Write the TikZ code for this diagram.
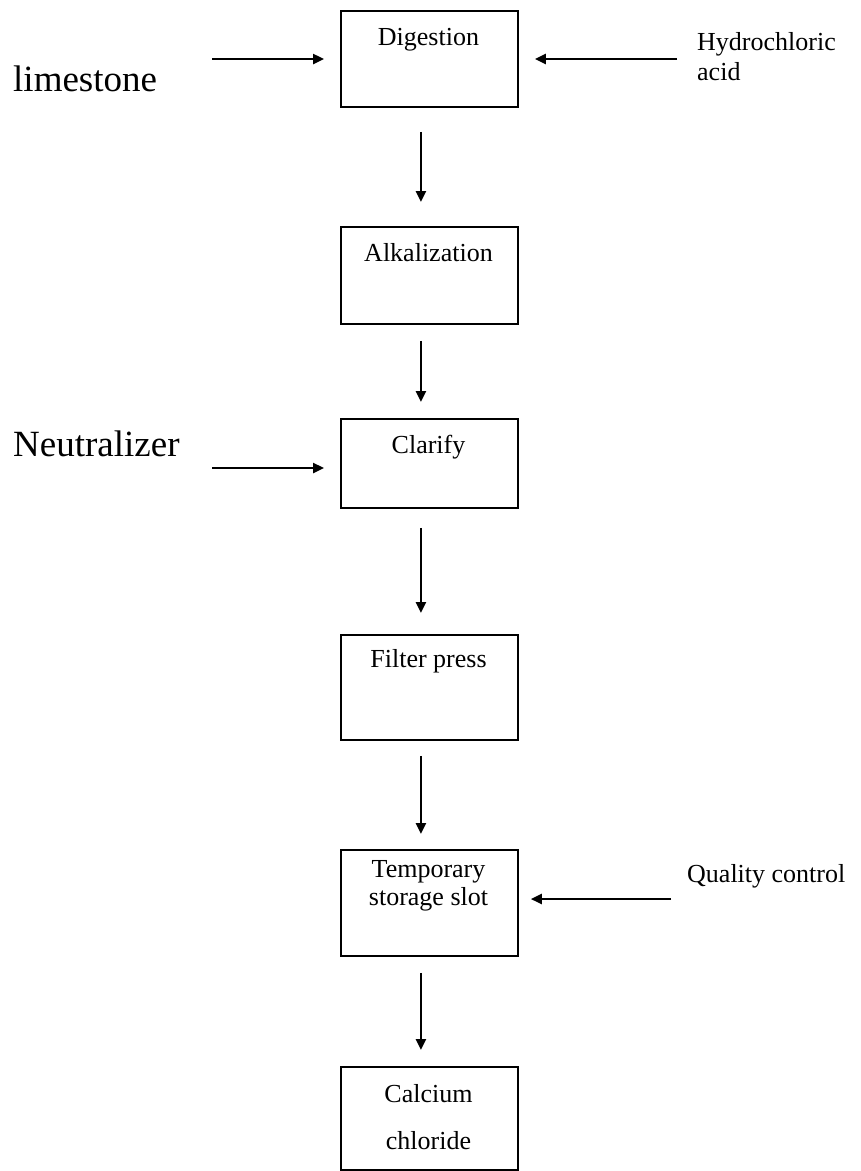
\documentclass[tikz,border=0pt]{standalone}
\usepackage{fontspec}
\setmainfont{Liberation Serif}
\usetikzlibrary{arrows.meta}
\begin{document}
\begin{tikzpicture}[x=1pt,y=-1pt,
  stage/.style={draw, line width=1.8pt, minimum width=177pt, anchor=north west, inner sep=0pt},
  flow/.style={line width=2.4pt, -{Triangle[length=11pt,width=10pt]}},
  small/.style={font=\fontsize{26}{30}\selectfont, inner sep=0pt},
  big/.style={font=\fontsize{37}{44}\selectfont, inner sep=0pt}]
\useasboundingbox (0,0) rectangle (861,1171);

% process stages
\node[stage, minimum height=96pt]  (dig) at (340,10)   {};
\node[stage, minimum height=97pt]  (alk) at (340,226)  {};
\node[stage, minimum height=89pt]  (cla) at (340,418)  {};
\node[stage, minimum height=105pt] (fil) at (340,634)  {};
\node[stage, minimum height=106pt] (tmp) at (340,849)  {};
\node[stage, minimum height=103pt] (cal) at (340,1066) {};

% stage titles
\node[small, anchor=base] (digT)  at (428.5,45)   {Digestion};
\node[small, anchor=base] (alkT)  at (428.5,261)  {Alkalization};
\node[small, anchor=base] (claT)  at (428.5,453)  {Clarify};
\node[small, anchor=base] (filT)  at (428.5,667)  {Filter press};
\node[small, anchor=base] (tmpT1) at (428.5,877)  {Temporary};
\node[small, anchor=base] (tmpT2) at (428.5,905)  {storage slot};
\node[small, anchor=base] (calT1) at (428.5,1102) {Calcium};
\node[small, anchor=base] (calT2) at (428.5,1149) {chloride};

% inputs
\node[big, anchor=base west]   (lime) at (13,91)   {limestone};
\node[big, anchor=base west]   (neu)  at (13,456)  {Neutralizer};
\node[small, anchor=base west] (hcl1) at (697,50)  {Hydrochloric};
\node[small, anchor=base west] (hcl2) at (697,80)  {acid};
\node[small, anchor=base west] (qc)   at (687,882) {Quality control};

% main flow
\draw[flow, shorten <=24pt, shorten >=24pt] ([xshift=-8.5pt]dig.south) -- ([xshift=-8.5pt]alk.north);
\draw[flow, shorten <=16pt, shorten >=16pt] ([xshift=-8.5pt]alk.south) -- ([xshift=-8.5pt]cla.north);
\draw[flow, shorten <=19pt, shorten >=21pt] ([xshift=-8.5pt]cla.south) -- ([xshift=-8.5pt]fil.north);
\draw[flow, shorten <=15pt, shorten >=15pt] ([xshift=-8.5pt]fil.south) -- ([xshift=-8.5pt]tmp.north);
\draw[flow, shorten <=16pt, shorten >=16pt] ([xshift=-8.5pt]tmp.south) -- ([xshift=-8.5pt]cal.north);

% feed arrows
\coordinate (limeIn) at (212,59);
\coordinate (hclIn)  at (677,59);
\coordinate (neuIn)  at (212,468);
\coordinate (qcIn)   at (671,899);
\draw[flow, shorten >=16pt] (limeIn) -- (limeIn -| dig.west);
\draw[flow, shorten >=16pt] (hclIn)  -- (hclIn -| dig.east);
\draw[flow, shorten >=16pt] (neuIn)  -- (neuIn -| cla.west);
\draw[flow, shorten >=12pt] (qcIn)   -- (qcIn -| tmp.east);
\end{tikzpicture}
\end{document}
